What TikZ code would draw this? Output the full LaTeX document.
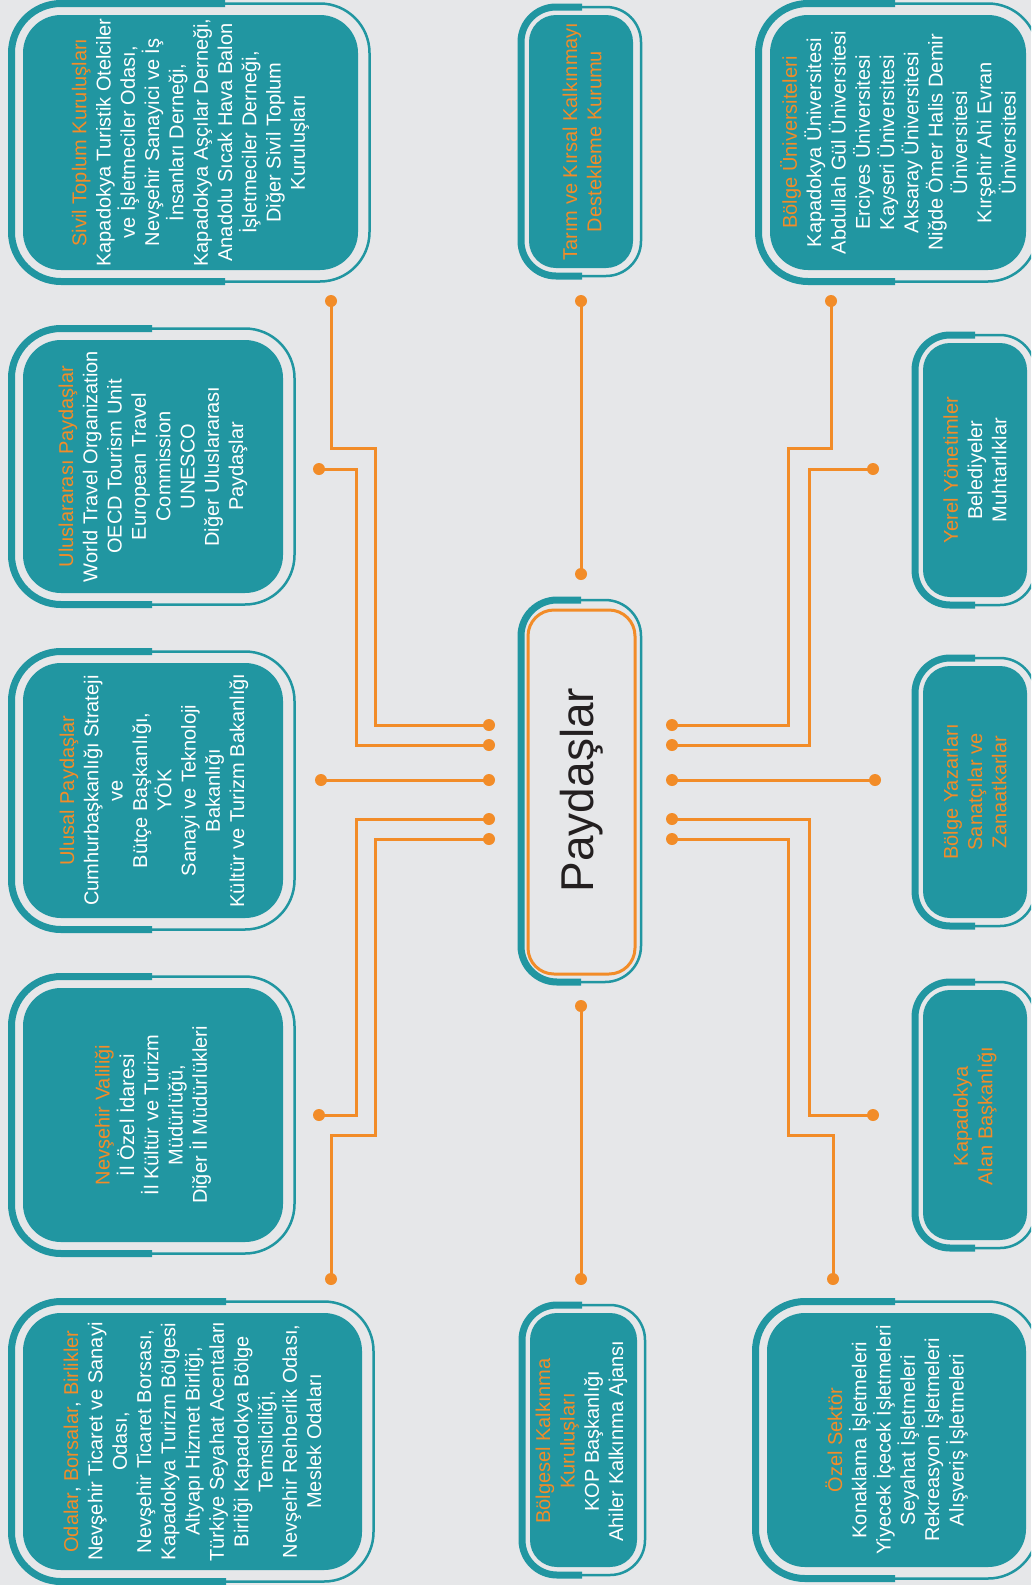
\documentclass[tikz,border=0pt]{standalone}
\usepackage{fontspec}
\setmainfont{Liberation Sans}
\definecolor{bgc}{HTML}{E6E7E9}
\definecolor{tealc}{HTML}{2196A1}
\definecolor{orangec}{HTML}{F28C28}
\definecolor{darktext}{HTML}{231F20}
\newcommand{\oc}[1]{\textcolor{orangec}{#1}}
% #1 x1, #2 y1, #3 x2, #4 y2 (inner fill), #5 split x, #6 inner radius, #7 inset
\newcommand{\stakebox}[7]{%
  \fill[tealc, rounded corners=#6pt] (#1,#2) rectangle (#3,#4);
  \draw[tealc, line width=7pt, rounded corners={#6+#7}] (#5,{#2-#7}) -- ({#1-#7},{#2-#7}) -- ({#1-#7},{#4+#7}) -- (#5,{#4+#7});
  \draw[tealc, line width=2.5pt, rounded corners={#6+#7}] (#5,{#2-#7}) -- ({#3+#7},{#2-#7}) -- ({#3+#7},{#4+#7}) -- (#5,{#4+#7});
}
\begin{document}
\begin{tikzpicture}[x=1pt,y=-1pt,
  boxtext/.style={text=white, align=center, rotate=90, inner sep=0pt, font=\fontsize{20}{24.3}\selectfont},
  link/.style={draw=orangec, line width=3pt},
  dotc/.style={fill=orangec}]
\path[use as bounding box] (0,0) rectangle (1031,1585);
\clip (0,0) rectangle (1031,1585);
\fill[bgc] (0,0) rectangle (1031,1585);

% ---------- boxes ----------
\stakebox{23}{15}{358}{270}{225}{38}{11.5}
\stakebox{529}{15}{633}{268}{582}{27}{8}
\stakebox{770}{15}{1026}{270}{895}{38}{11.5}
\stakebox{23}{340}{283}{593}{152}{38}{11.5}
\stakebox{923}{343}{1027}{597}{975}{27}{8}
\stakebox{23}{663}{283}{918}{152}{38}{11.5}
\stakebox{923}{666}{1027}{918}{975}{27}{8}
\stakebox{23}{988}{283}{1242}{152}{38}{11.5}
\stakebox{923}{990}{1027}{1240}{975}{27}{8}
\stakebox{23}{1313}{362}{1570}{226}{38}{11.5}
\stakebox{530}{1313}{637}{1567}{582}{27}{8}
\stakebox{767}{1313}{1026}{1567}{895}{38}{11.5}

% center box
\draw[tealc, line width=7pt, rounded corners=36pt] (581,600) -- (521,600) -- (521,982) -- (581,982);
\draw[tealc, line width=2.5pt, rounded corners=36pt] (581,600) -- (641,600) -- (641,982) -- (581,982);
\draw[orangec, line width=3pt, fill=bgc, rounded corners=26pt] (528,610) rectangle (635,974);
\node[rotate=90, text=darktext, inner sep=0pt, font=\fontsize{46}{50}\selectfont] (center) at (581.5,790) {Paydaşlar};

% ---------- texts ----------
\node[boxtext] (sivil) at (190.5,142.5) {\oc{Sivil Toplum Kuruluşları}\\Kapadokya Turistik Otelciler\\ve İşletmeciler Odası,\\Nevşehir Sanayici ve İş\\İnsanları Derneği,\\Kapadokya Aşçılar Derneği,\\Anadolu Sıcak Hava Balon\\İşletmeciler Derneği,\\Diğer Sivil Toplum\\Kuruluşları};
\node[boxtext] (tarim) at (582,141.5) {\oc{Tarım ve Kırsal Kalkınmayı}\\\oc{Destekleme Kurumu}};
\node[boxtext] (univ) at (898,142.5) {\oc{Bölge Üniversiteleri}\\Kapadokya Üniversitesi\\Abdullah Gül Üniversitesi\\Erciyes Üniversitesi\\Kayseri Üniversitesi\\Aksaray Üniversitesi\\Niğde Ömer Halis Demir\\Üniversitesi\\Kırşehir Ahi Evran\\Üniversitesi};
\node[boxtext] (uluslar) at (153,466.5) {\oc{Uluslararası Paydaşlar}\\World Travel Organization\\OECD Tourism Unit\\European Travel\\Commission\\UNESCO\\Diğer Uluslararası\\Paydaşlar};
\node[boxtext] (yerel) at (975,470) {\oc{Yerel Yönetimler}\\Belediyeler\\Muhtarlıklar};
\node[boxtext] (ulusal) at (154,790.5) {\oc{Ulusal Paydaşlar}\\Cumhurbaşkanlığı Strateji\\ve\\Bütçe Başkanlığı,\\YÖK\\Sanayi ve Teknoloji\\Bakanlığı\\Kültür ve Turizm Bakanlığı};
\node[boxtext] (yazar) at (975,792) {\oc{Bölge Yazarları}\\\oc{Sanatçılar ve}\\\oc{Zanaatkarlar}};
\node[boxtext] (valilik) at (153,1115) {\oc{Nevşehir Valiliği}\\İl Özel İdaresi\\İl Kültür ve Turizm\\Müdürlüğü,\\Diğer İl Müdürlükleri};
\node[boxtext] (alan) at (975,1116) {\oc{Kapadokya}\\\oc{Alan Başkanlığı}};
\node[boxtext] (odalar) at (192.5,1441.5) {\oc{Odalar}, \oc{Borsalar}, \oc{Birlikler}\\Nevşehir Ticaret ve Sanayi\\Odası,\\Nevşehir Ticaret Borsası,\\Kapadokya Turizm Bölgesi\\Altyapı Hizmet Birliği,\\Türkiye Seyahat Acentaları\\Birliği Kapadokya Bölge\\Temsilciliği,\\Nevşehir Rehberlik Odası,\\Meslek Odaları};
\node[boxtext] (bolgesel) at (581.5,1441) {\oc{Bölgesel Kalkınma}\\\oc{Kuruluşları}\\KOP Başkanlığı\\Ahiler Kalkınma Ajansı};
\node[boxtext] (ozel) at (896.5,1440) {\oc{Özel Sektör}\\Konaklama İşletmeleri\\Yiyecek İçecek İşletmeleri\\Seyahat İşletmeleri\\Rekreasyon İşletmeleri\\Alışveriş İşletmeleri};

% ---------- connector end points ----------
\coordinate (l1a) at (331,301);  \coordinate (l1b) at (489,725);
\coordinate (l2a) at (319,469);  \coordinate (l2b) at (489,745);
\coordinate (l3a) at (321,780);  \coordinate (l3b) at (489,780);
\coordinate (l4a) at (319,1115); \coordinate (l4b) at (489,819);
\coordinate (l5a) at (331,1279); \coordinate (l5b) at (489,839);
\coordinate (c1a) at (581,301);  \coordinate (c1b) at (581,574);
\coordinate (c2a) at (581,1006); \coordinate (c2b) at (581,1279);
\coordinate (r1a) at (831,301);  \coordinate (r1b) at (672,725);
\coordinate (r2a) at (873,469);  \coordinate (r2b) at (672,745);
\coordinate (r3a) at (875,780);  \coordinate (r3b) at (672,780);
\coordinate (r4a) at (873,1115); \coordinate (r4b) at (672,819);
\coordinate (r5a) at (833,1279); \coordinate (r5b) at (672,839);

\draw[link] (l1a) -- (331,448) -- (375,448) |- (l1b);
\draw[link] (l2a) -- (356,469) |- (l2b);
\draw[link] (l3a) -- (l3b);
\draw[link] (l4a) -- (356,1115) |- (l4b);
\draw[link] (l5a) -- (331,1135) -- (375,1135) |- (l5b);
\draw[link] (c1a) -- (c1b);
\draw[link] (c2a) -- (c2b);
\draw[link] (r1a) -- (831,448) -- (788,448) |- (r1b);
\draw[link] (r2a) -- (809,469) |- (r2b);
\draw[link] (r3a) -- (r3b);
\draw[link] (r4a) -- (809,1115) |- (r4b);
\draw[link] (r5a) -- (833,1135) -- (788,1135) |- (r5b);

\foreach \p in {l1a,l1b,l2a,l2b,l3a,l3b,l4a,l4b,l5a,l5b,c1a,c1b,c2a,c2b,r1a,r1b,r2a,r2b,r3a,r3b,r4a,r4b,r5a,r5b}
  \fill[dotc] (\p) circle (6pt);
\end{tikzpicture}
\end{document}
